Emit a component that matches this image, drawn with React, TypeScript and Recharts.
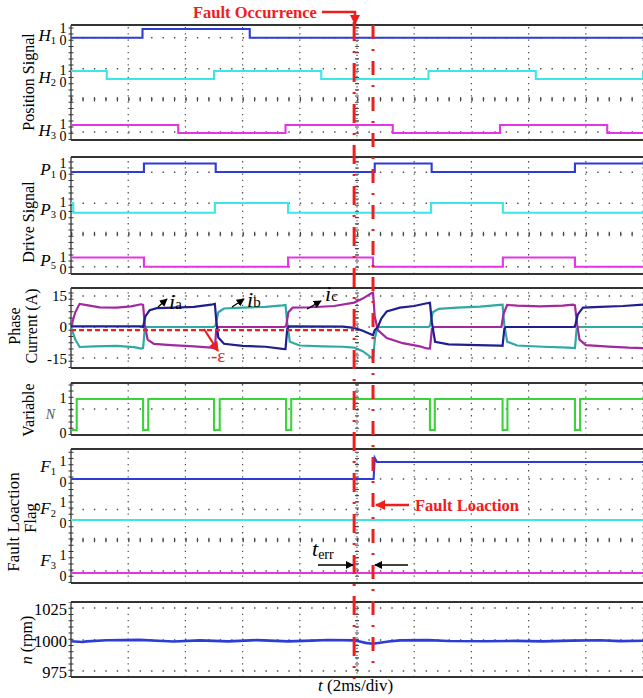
import React from 'react';
import { LineChart, Line, XAxis, YAxis, ReferenceLine } from 'recharts';

const SERIF = '"Times New Roman", "Liberation Serif", serif';
const W = 643;
const H = 698;

// time axis in ms, 2 ms/div
const T_GRID = [2, 4, 6, 8, 10, 12, 14, 16, 18, 20];
const T_FAULT = 9.9;
const T_LOCATE = 10.56;

// hall signals (H1 stuck at 0)
const H1_T = [0, 2.5, 6.25, 20];
const H1_V = [0, 1, 0, 0];
const H2_T = [0, 1.25, 5.0, 8.75, 12.5, 16.25, 20];
const H2_V = [1, 0, 1, 0, 1, 0, 1];
const H3_T = [0, 3.75, 7.5, 11.25, 15.0, 18.75, 20];
const H3_V = [1, 0, 1, 0, 1, 0, 0];

// drive signals
const P1_T = [0, 2.55, 5.06, 10.62, 12.61, 17.62, 20];
const P1_V = [0, 1, 0, 1, 0, 1, 1];
const P3_T = [0, 0.08, 5.03, 7.59, 12.59, 15.1, 20];
const P3_V = [1, 0, 1, 0, 1, 0, 0];
const P5_T = [0, 2.55, 7.59, 10.56, 15.1, 17.62, 20];
const P5_V = [1, 0, 1, 0, 1, 0, 0];

// phase currents (A)
const IA_T = [0, 2.45, 2.52, 2.6, 2.75, 3.0, 3.6, 4.3, 4.9, 5.03, 5.08, 5.15, 5.35, 6.0, 6.8, 7.4, 7.5, 7.56, 7.62, 9.5, 9.9, 10.2, 10.5, 10.56, 10.62, 10.73, 10.85, 11.04, 11.5, 12.0, 12.44, 12.55, 12.62, 12.73, 13.2, 14.2, 15.0, 15.09, 15.15, 15.2, 17.55, 17.62, 17.72, 17.9, 18.5, 19.3, 20];
const IA_V = [0.3, 0.3, 0, 5, 8, 9, 9.2, 9.6, 10.6, 11, 3, -5, -8, -9, -9.4, -10.4, -10.5, -1, 0.3, 0.2, -0.4, -1.8, -3.6, -3.9, -1.5, 0, 4, 7.4, 9.2, 10, 11.3, 11.5, 2, -7, -8.3, -8.6, -8.9, -9, -1, 0, 0, 0.2, 6, 9.2, 9.6, 10, 10.6];
const IB_T = [0, 0.15, 0.3, 0.8, 1.6, 2.2, 2.45, 2.52, 2.58, 2.65, 4.98, 5.05, 5.15, 5.35, 6.0, 6.8, 7.4, 7.5, 7.56, 7.65, 8.0, 8.8, 9.5, 9.9, 10.2, 10.5, 10.56, 10.63, 10.7, 10.75, 12.5, 12.55, 12.65, 12.85, 13.5, 14.3, 15.0, 15.09, 15.15, 15.25, 15.6, 16.5, 17.4, 17.62, 17.68, 17.75, 20];
const IB_V = [0, -6, -9.5, -9.2, -9, -9.6, -10.3, -10, -1, 0, 0, 0.5, 7, 8.8, 9.2, 9.6, 10.3, 10.5, 2, -7, -8.8, -9.2, -9.4, -9.8, -11.5, -14.5, -15.2, -5, -1, 0, 0, 0.5, 7, 8.6, 9.2, 9.7, 10.5, 10.6, 1, -7, -8.8, -9.4, -9.8, -10, -1, 0, 0];
const IC_T = [0, 0.15, 0.3, 0.6, 1.0, 1.6, 2.1, 2.45, 2.52, 2.58, 2.68, 2.9, 3.5, 4.3, 4.9, 5.03, 5.08, 5.15, 7.45, 7.52, 7.6, 7.75, 8.4, 9.2, 9.9, 10.2, 10.5, 10.56, 10.62, 10.73, 11.04, 11.6, 12.2, 12.44, 12.55, 12.62, 12.7, 15.05, 15.12, 15.25, 15.6, 16.4, 17.2, 17.55, 17.62, 17.7, 17.78, 18.0, 18.8, 19.5, 20];
const IC_V = [0, 7, 11, 10.3, 9.3, 9.2, 9.8, 10.8, 10.5, 1, -6, -8, -8.6, -9.2, -9.8, -10.2, -1, 0, 0, 0.3, 7, 9.2, 9.4, 10, 11.6, 13.5, 16, 16.3, 5, -1.5, -5.3, -7.7, -9.2, -10.2, -10.3, -1, 0, 0, 6, 10.5, 10.2, 9.8, 10.2, 10.6, 10.3, 1, -6, -8.6, -9.3, -9.8, -10];
const EPS = -1.5;

// variable N
const N_T = [0, 0.2, 2.52, 2.7, 5.0, 5.2, 7.52, 7.7, 12.55, 12.72, 15.09, 15.26, 17.62, 17.8, 20];
const N_V = [0, 1, 0, 1, 0, 1, 0, 1, 0, 1, 0, 1, 0, 1, 1];

// fault location flags
const F1_T = [0, 10.58, 10.62, 10.7, 20];
const F1_V = [0, 0, 1.24, 1, 1];
const F2_T = [0, 20];
const F2_V = [0, 0];
const F3_T = [0, 20];
const F3_V = [0, 0];

// speed (rpm)
const SPD_T = [0, 0.4, 0.55, 1.25, 2.4, 3.2, 3.6, 4.5, 5.5, 6.5, 7.6, 8.4, 9.0, 9.9, 10.1, 10.3, 10.55, 10.8, 11.1, 11.5, 12.5, 13.2, 14.5, 15.5, 16.5, 17.5, 18.5, 19.2, 20];
const SPD_V = [999.6, 999.0, 999.5, 1000.4, 1000.7, 999.8, 999.4, 1000.3, 999.5, 1000.5, 999.5, 1000.1, 1000.6, 1000.3, 999.4, 998.3, 997.6, 998.4, 999.4, 1000.3, 1000.5, 999.8, 999.6, 999.9, 999.5, 1000.1, 1000.4, 999.7, 1000];
const CUR_TICKS = [-15, 0, 15];
const SPD_TICKS = [975, 1000, 1025];

const BLUE = '#2c3cd6';
const CYAN = '#3ce6e6';
const MAGENTA = '#e236e2';
const GREEN = '#3ad43a';
const RED = '#f01d1d';
const IA_COL = '#1f1f8f';
const IB_COL = '#2fa9a4';
const IC_COL = '#a3279f';
const GRID = '#4a4a4a';

const pts = (t: number[], v: number[]) => t.map((x, i) => ({ t: x, v: v[i] }));

type Sig = { id: string; t: number[]; v: number[]; color: string; y1: number; y0: number; nameY: number; name: string; sub: string; type?: 'stepAfter' | 'linear' };

const POS_SIGS: Sig[] = [
  { id: 'h1', t: H1_T, v: H1_V, color: BLUE, y1: 29, y0: 37.7, nameY: 41, name: 'H', sub: '1' },
  { id: 'h2', t: H2_T, v: H2_V, color: CYAN, y1: 71, y0: 79, nameY: 83, name: 'H', sub: '2' },
  { id: 'h3', t: H3_T, v: H3_V, color: MAGENTA, y1: 125, y0: 133, nameY: 136, name: 'H', sub: '3' },
];
const DRV_SIGS: Sig[] = [
  { id: 'p1', t: P1_T, v: P1_V, color: BLUE, y1: 163.5, y0: 172, nameY: 175, name: 'P', sub: '1' },
  { id: 'p3', t: P3_T, v: P3_V, color: CYAN, y1: 203, y0: 212.7, nameY: 215, name: 'P', sub: '3' },
  { id: 'p5', t: P5_T, v: P5_V, color: MAGENTA, y1: 257.5, y0: 266.7, nameY: 266, name: 'P', sub: '5' },
];
const VAR_SIGS: Sig[] = [
  { id: 'n', t: N_T, v: N_V, color: GREEN, y1: 399, y0: 430, nameY: 419, name: 'N', sub: '' },
];
const FLG_SIGS: Sig[] = [
  { id: 'f1', t: F1_T, v: F1_V, color: BLUE, y1: 462, y0: 479, nameY: 472, name: 'F', sub: '1', type: 'linear' },
  { id: 'f2', t: F2_T, v: F2_V, color: CYAN, y1: 503, y0: 520, nameY: 514, name: 'F', sub: '2' },
  { id: 'f3', t: F3_T, v: F3_V, color: MAGENTA, y1: 556, y0: 573, nameY: 566, name: 'F', sub: '3' },
];

const levelDomain = (s: Sig, top: number, height: number): [number, number] => {
  const u = s.y0 - s.y1;
  return [-(top + height - s.y0) / u, 1 + (s.y1 - top) / u];
};

const gridEls = (pre: string, top: number, height: number, rows: number[], center: number | null) => {
  const els: React.ReactElement[] = [];
  T_GRID.forEach((t) => {
    els.push(
      <ReferenceLine key={`${pre}v${t}`} x={t} yAxisId="g" stroke={GRID} strokeWidth={1.2}
        strokeDasharray={t === 10 ? '1.3 2.2' : '1.3 4.9'} />
    );
  });
  els.push(<ReferenceLine key={`${pre}vc`} x={10} yAxisId="g" stroke={GRID} strokeWidth={4} strokeDasharray="1.1 5.1" />);
  rows.forEach((y, i) => {
    els.push(
      <ReferenceLine key={`${pre}h${i}`} y={y - top} yAxisId="g" stroke={GRID} strokeWidth={1.5} strokeDasharray="1.4 10.04" />
    );
  });
  if (center !== null) {
    els.push(<ReferenceLine key={`${pre}hc`} y={center - top} yAxisId="g" stroke={GRID} strokeWidth={4.5} strokeDasharray="1.2 10.24" />);
  }
  els.push(<ReferenceLine key={`${pre}top`} y={0} yAxisId="g" stroke="#333" strokeWidth={2.2} />);
  els.push(<ReferenceLine key={`${pre}bot`} y={height} yAxisId="g" stroke="#333" strokeWidth={2.2} />);
  els.push(<ReferenceLine key={`${pre}lb`} x={0} yAxisId="g" stroke="#333" strokeWidth={1.3} />);
  els.push(<ReferenceLine key={`${pre}lt`} x={0} yAxisId="g" stroke="#333" strokeWidth={5} strokeDasharray="1 5.2" />);
  return els;
};

const digitalPanel = (pre: string, top: number, height: number, sigs: Sig[], rows: number[], center: number | null) => (
  <div style={{ position: 'absolute', left: 0, top: top - 2 }}>
    <LineChart width={W} height={height + 4} margin={{ top: 2, right: 0, bottom: 2, left: 71 }}>
      <XAxis type="number" dataKey="t" domain={[0, 20]} hide allowDataOverflow />
      <YAxis yAxisId="g" type="number" domain={[0, height]} reversed hide width={0} allowDataOverflow />
      {sigs.map((s) => (
        <YAxis key={`ax${s.id}`} yAxisId={s.id} type="number" domain={levelDomain(s, top, height)} hide width={0} allowDataOverflow />
      ))}
      {gridEls(pre, top, height, rows, center)}
      {sigs.map((s) => (
        <Line key={s.id} yAxisId={s.id} data={pts(s.t, s.v)} dataKey="v" type={s.type || 'stepAfter'}
          stroke={s.color} strokeWidth={2.1} dot={false} isAnimationActive={false} />
      ))}
    </LineChart>
  </div>
);

const tickStyle = (size: number) => ({ fill: '#000', fontSize: size, fontFamily: SERIF });

const currentPanel = () => {
  const top = 288;
  const height = 80;
  return (
    <div style={{ position: 'absolute', left: 0, top: top - 8 }}>
      <LineChart width={W} height={height + 16} margin={{ top: 8, right: 0, bottom: 8, left: 0 }}>
        <XAxis type="number" dataKey="t" domain={[0, 20]} hide allowDataOverflow />
        <YAxis yAxisId="i" type="number" domain={[-19.5, 18.55]} ticks={CUR_TICKS} interval={0} width={71}
          axisLine={false} tickLine={false} tickSize={0} tickMargin={4} tick={tickStyle(15)} allowDataOverflow />
        <YAxis yAxisId="g" type="number" domain={[0, height]} reversed hide width={0} allowDataOverflow />
        {gridEls('cur', top, height, [296, 327, 358], null)}
        <Line yAxisId="i" data={pts(IB_T, IB_V)} dataKey="v" type="linear" stroke={IB_COL} strokeWidth={2.2} dot={false} isAnimationActive={false} />
        <Line yAxisId="i" data={pts(IC_T, IC_V)} dataKey="v" type="linear" stroke={IC_COL} strokeWidth={2.2} dot={false} isAnimationActive={false} />
        <Line yAxisId="i" data={pts(IA_T, IA_V)} dataKey="v" type="linear" stroke={IA_COL} strokeWidth={2.2} dot={false} isAnimationActive={false} />
        <ReferenceLine yAxisId="i" segment={[{ x: 0, y: EPS }, { x: T_FAULT, y: EPS }]} stroke={RED} strokeWidth={2.4} strokeDasharray="5 3" />
      </LineChart>
    </div>
  );
};

const speedPanel = () => {
  const top = 602;
  const height = 75;
  return (
    <div style={{ position: 'absolute', left: 0, top: top - 8 }}>
      <LineChart width={W} height={height + 16} margin={{ top: 8, right: 0, bottom: 8, left: 0 }}>
        <XAxis type="number" dataKey="t" domain={[0, 20]} hide allowDataOverflow />
        <YAxis yAxisId="n" type="number" domain={[971, 1031]} ticks={SPD_TICKS} interval={0} width={71}
          axisLine={false} tickLine={false} tickSize={0} tickMargin={4} tick={tickStyle(16.5)} allowDataOverflow />
        <YAxis yAxisId="g" type="number" domain={[0, height]} reversed hide width={0} allowDataOverflow />
        {gridEls('spd', top, height, [608, 640, 671], null)}
        <Line yAxisId="n" data={pts(SPD_T, SPD_V)} dataKey="v" type="linear" stroke={BLUE} strokeWidth={2.6} dot={false} isAnimationActive={false} />
      </LineChart>
    </div>
  );
};

const faultOverlay = () => (
  <div style={{ position: 'absolute', left: 0, top: 0, pointerEvents: 'none' }}>
    <LineChart width={W} height={H} margin={{ top: 0, right: 0, bottom: 0, left: 71 }}>
      <XAxis type="number" dataKey="t" domain={[0, 20]} hide allowDataOverflow />
      <YAxis yAxisId="px" type="number" domain={[0, H]} reversed hide width={0} allowDataOverflow />
      <ReferenceLine yAxisId="px" segment={[{ x: T_FAULT, y: 22 }, { x: T_FAULT, y: 679 }]} stroke={RED} strokeWidth={3} strokeDasharray="19 10 2 10" />
      <ReferenceLine yAxisId="px" segment={[{ x: T_LOCATE, y: 25 }, { x: T_LOCATE, y: 664 }]} stroke={RED} strokeWidth={3} strokeDasharray="14 10 2 10" />
    </LineChart>
  </div>
);

const vTitle = (x: number, y: number, content: React.ReactNode, size = 16) => (
  <text transform={`translate(${x},${y}) rotate(-90)`} textAnchor="middle" dy="0.35em" fontSize={size} fill="#000">
    {content}
  </text>
);

const sigLabels = (sigs: Sig[]) =>
  sigs.map((s) => (
    <g key={`lb${s.id}`}>
      <text x={s.sub ? 56 : 55} y={s.nameY} textAnchor="end" fontSize={s.sub ? 17 : 14} fontStyle="italic" fill={s.sub ? '#000' : '#555'}>
        {s.name}
        {s.sub && <tspan fontSize={10.5} fontStyle="normal" dy={3}>{s.sub}</tspan>}
      </text>
      <text x={63} y={s.y1 + 4} textAnchor="middle" fontSize={14}>1</text>
      <text x={63} y={s.y0 + 7.5} textAnchor="middle" fontSize={14}>0</text>
    </g>
  ));

export default function App() {
  return (
    <div style={{ position: 'absolute', left: 0, top: 0, width: W, height: H, background: '#fff', overflow: 'hidden', fontFamily: SERIF }}>
      {digitalPanel('pos', 25, 115, POS_SIGS, [37.7, 68.7, 99.3, 132], 99.3)}
      {digitalPanel('drv', 157, 117, DRV_SIGS, [172.3, 203.3, 234, 266.7], 234)}
      {currentPanel()}
      {digitalPanel('var', 383, 52, VAR_SIGS, [409], null)}
      {digitalPanel('flg', 449, 134, FLG_SIGS, [479, 509.5, 540, 571], 540)}
      {speedPanel()}
      {faultOverlay()}
      <svg width={W} height={H} style={{ position: 'absolute', left: 0, top: 0, pointerEvents: 'none', fontFamily: SERIF }}>
        <defs>
          <marker id="ahB" viewBox="0 0 10 10" refX="9" refY="5" markerUnits="userSpaceOnUse" markerWidth="8" markerHeight="8" orient="auto">
            <path d="M0,0 L10,5 L0,10 z" fill="#000" />
          </marker>
          <marker id="ahR" viewBox="0 0 10 10" refX="9" refY="5" markerUnits="userSpaceOnUse" markerWidth="10" markerHeight="10" orient="auto">
            <path d="M0,0 L10,5 L0,10 z" fill={RED} />
          </marker>
        </defs>

        {vTitle(28, 82, 'Position Signal')}
        {vTitle(28, 222, 'Drive Signal')}
        {vTitle(14, 326, 'Phase')}
        {vTitle(31, 326, 'Current (A)')}
        {vTitle(28, 410, 'Variable')}
        {vTitle(13, 522, 'Fault Loaction', 17)}
        {vTitle(30, 518, 'Flag', 17)}
        {vTitle(26, 640, <><tspan fontStyle="italic">n</tspan> (rpm)</>)}

        {sigLabels(POS_SIGS)}
        {sigLabels(DRV_SIGS)}
        {sigLabels(VAR_SIGS)}
        {sigLabels(FLG_SIGS)}

        <text x={193} y={18} fill={RED} fontWeight="bold" fontSize={16.5}>Fault Occurrence</text>
        <path d="M322 12 H355 V24" fill="none" stroke={RED} strokeWidth={2.5} markerEnd="url(#ahR)" />

        <path d="M158 307 L167 299" stroke="#000" strokeWidth={1.4} markerEnd="url(#ahB)" />
        <text x={169} y={309} fontSize={22} fontStyle="italic">i<tspan fontSize={15} fontStyle="normal">a</tspan></text>
        <path d="M232 307 L244 299" stroke="#000" strokeWidth={1.4} markerEnd="url(#ahB)" />
        <text x={247} y={307} fontSize={22} fontStyle="italic">i<tspan fontSize={15} fontStyle="normal">b</tspan></text>
        <path d="M307 309 L321 301" stroke="#000" strokeWidth={1.4} markerEnd="url(#ahB)" />
        <text x={325} y={301} fontSize={22} fontStyle="italic">i<tspan fontSize={15} fontStyle="normal">c</tspan></text>

        <path d="M204 329 L218 351" stroke={RED} strokeWidth={2.2} markerEnd="url(#ahR)" />
        <text x={211} y={362} fill={RED} fontSize={19}>-ε</text>

        <path d="M409 505 H376" stroke={RED} strokeWidth={2.5} markerEnd="url(#ahR)" />
        <text x={415} y={511} fill={RED} fontWeight="bold" fontSize={16.5}>Fault Loaction</text>

        <text x={312} y={556} fontSize={22} fontStyle="italic">t<tspan fontSize={14} fontStyle="normal" dy={3}>err</tspan></text>
        <path d="M318 565 H353" stroke="#000" strokeWidth={1.5} markerEnd="url(#ahB)" />
        <path d="M408 565 H375" stroke="#000" strokeWidth={1.5} markerEnd="url(#ahB)" />

        <text x={318} y={691} fontSize={17}><tspan fontStyle="italic">t</tspan> (2ms/div)</text>
      </svg>
    </div>
  );
}
